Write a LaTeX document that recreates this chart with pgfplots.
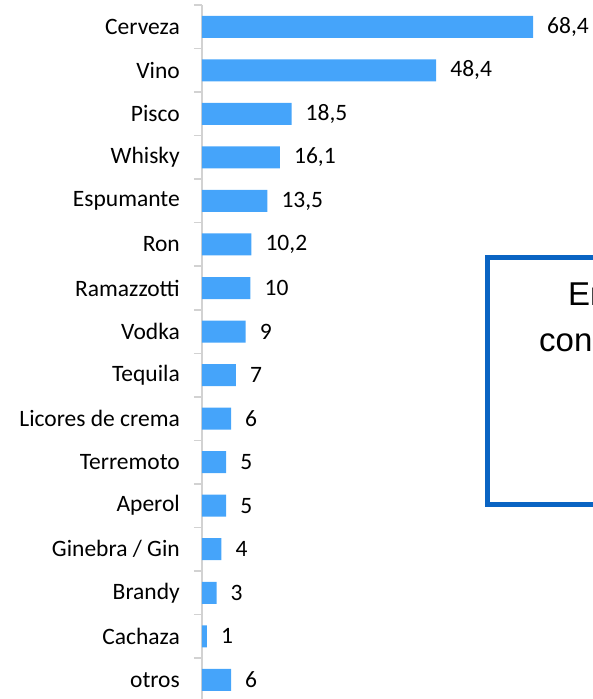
\documentclass[border=0pt]{standalone}
\usepackage{fontspec}
\setmainfont{Carlito}
\newfontfamily\arialfont{Liberation Sans}
\usepackage{pgfplots}
\usepackage{pgfplotstable}
\pgfplotsset{compat=1.18}
\definecolor{barblue}{RGB}{69,164,250}
\definecolor{boxblue}{RGB}{10,100,195}
\definecolor{axgray}{RGB}{210,210,210}
\pgfplotstableread[col sep=comma]{
idx,val,lab
0,68.4,{68,4}
1,48.4,{48,4}
2,18.5,{18,5}
3,16.1,{16,1}
4,13.5,{13,5}
5,10.2,{10,2}
6,10,10
7,9,9
8,7,7
9,6,6
10,5,5
11,5,5
12,4,4
13,3,3
14,1,1
15,6,6
}\datatable
\begin{document}
\begin{tikzpicture}
\clip (0pt,0pt) rectangle (593pt,699pt);
\begin{axis}[
  at={(202pt,0pt)}, anchor=south west,
  scale only axis, width=391pt, height=694pt,
  xmin=0, xmax=80.8,
  ymin=-0.5, ymax=15.44,
  y dir=reverse,
  axis x line=none,
  axis y line*=left,
  y axis line style={draw=axgray, line width=2pt, -},
  ytick={0,...,15},
  yticklabels={Cerveza,Vino,Pisco,Whisky,Espumante,Ron,Ramazzotti,Vodka,Tequila,Licores de crema,Terremoto,Aperol,Ginebra / Gin,Brandy,Cachaza,otros},
  major tick length=0pt,
  minor ytick={-0.5,0.5,...,14.5},
  minor tick length=8pt,
  tick align=outside,
  minor tick style={draw=axgray, line width=1.5pt},
  yticklabel style={anchor=east, inner sep=0pt, xshift=-22pt, font=\fontsize{23.5}{28}\selectfont, text=black},
  xbar, bar width=22pt,
  point meta=explicit symbolic,
  nodes near coords,
  every node near coord/.append style={anchor=west, inner sep=0pt, xshift=14pt, font=\fontsize{23.5}{28}\selectfont, text=black},
  clip=false,
]
\addplot[fill=barblue, draw=none] table[x=val, y=idx, meta=lab] {\datatable};
\end{axis}
\draw[boxblue, line width=5pt] (487.5pt,441.5pt) rectangle (700pt,194.5pt);
\node[anchor=base west, inner sep=0pt, font=\arialfont\fontsize{33}{44}\selectfont] at (568pt,393pt) {En};
\node[anchor=base west, inner sep=0pt, font=\arialfont\fontsize{33}{44}\selectfont] at (539pt,347pt) {con};
\end{tikzpicture}
\end{document}
